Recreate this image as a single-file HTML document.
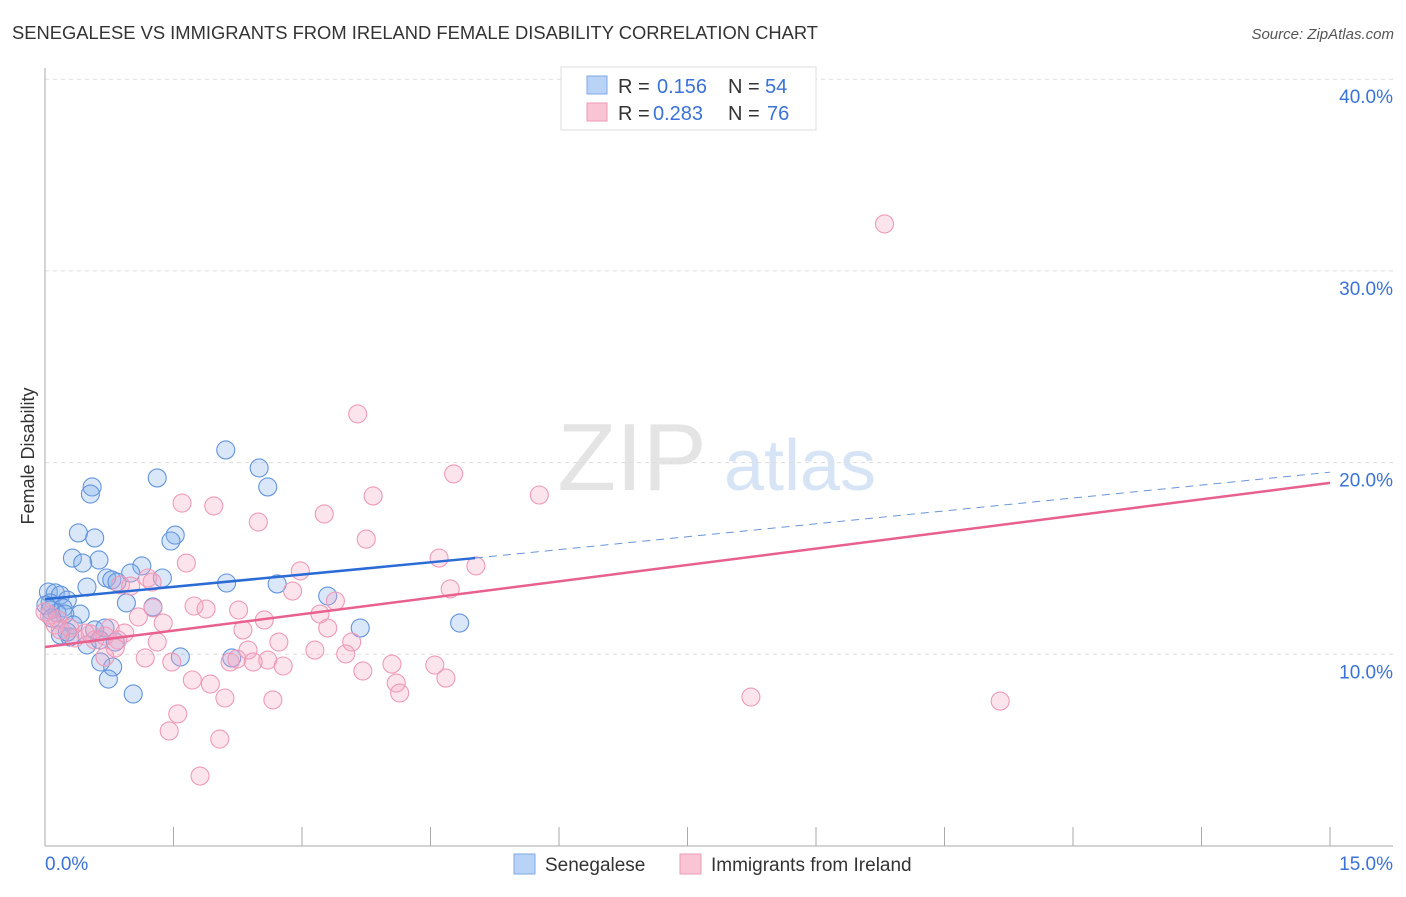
<!DOCTYPE html>
<html><head><meta charset="utf-8"><style>
body{margin:0;background:#fff;font-family:"Liberation Sans",sans-serif}
svg text{font-family:"Liberation Sans",sans-serif}
</style></head><body>
<svg id="chart" width="1406" height="892" viewBox="0 0 1406 892" xmlns="http://www.w3.org/2000/svg">
<text x="12" y="39" font-size="18" fill="#333" textLength="806" lengthAdjust="spacingAndGlyphs">SENEGALESE VS IMMIGRANTS FROM IRELAND FEMALE DISABILITY CORRELATION CHART</text>
<text x="1394" y="39" font-size="15" fill="#555" font-style="italic" text-anchor="end">Source: ZipAtlas.com</text>
<g>
<text x="632" y="490" font-size="96" fill="#e4e4e4" text-anchor="middle" font-family="Liberation Serif">ZIP</text>
<text x="800" y="490" font-size="72" fill="#d6e4f5" text-anchor="middle">atlas</text>
</g>
<g id="grid"></g>
<g id="axes"></g>
<g id="marks"></g>
<text transform="translate(34,456) rotate(-90)" font-size="18" fill="#333" text-anchor="middle">Female Disability</text>
<g>
<rect x="561" y="67" width="255" height="63" fill="#fff" stroke="#ddd"/>
<rect x="587" y="76" width="20" height="18" fill="#b8d3f5" stroke="#7fa9e6"/>
<rect x="587" y="103" width="20" height="18" fill="#f9c5d5" stroke="#ee9ab5"/>
<text x="618" y="93" font-size="20" fill="#333">R =</text>
<text x="657" y="93" font-size="20" fill="#3a72d8">0.156</text>
<text x="728" y="93" font-size="20" fill="#333">N =</text>
<text x="765" y="93" font-size="20" fill="#3a72d8">54</text>
<text x="618" y="120" font-size="20" fill="#333">R =</text>
<text x="653" y="120" font-size="20" fill="#3a72d8">0.283</text>
<text x="728" y="120" font-size="20" fill="#333">N =</text>
<text x="767" y="120" font-size="20" fill="#3a72d8">76</text>
</g>
<g>
<rect x="514" y="854" width="21" height="20" fill="#b8d3f5" stroke="#7fa9e6"/>
<text x="545" y="871" font-size="19" fill="#333">Senegalese</text>
<rect x="680" y="854" width="21" height="20" fill="#f9c5d5" stroke="#ee9ab5"/>
<text x="711" y="871" font-size="19" fill="#333">Immigrants from Ireland</text>
</g>
</svg>
<script>
const blueX=[2.11,2.50,2.60,1.31,0.55,0.53,0.39,0.58,1.52,1.47,0.32,0.63,0.44,1.13,1.00,0.72,0.78,0.84,1.37,2.12,2.71,0.49,0.04,0.12,0.18,0.26,0.06,0.95,1.26,0.21,0.41,0.14,0.23,3.30,3.68,4.84,0.33,0.18,0.29,0.58,0.70,0.49,0.64,0.82,1.58,2.18,0.65,0.79,0.74,1.03,0.06,0.01,0.08,0.26];
const blueY=[20.66,19.72,18.73,19.20,18.73,18.36,16.33,16.07,16.22,15.91,15.02,14.92,14.76,14.61,14.24,13.98,13.88,13.77,13.98,13.72,13.67,13.51,13.25,13.20,13.09,12.83,12.68,12.68,12.47,12.42,12.10,12.15,12.10,13.04,11.37,11.63,11.53,11.01,10.90,11.27,11.37,10.49,10.75,10.64,9.86,9.81,9.60,9.34,8.71,7.93,12.31,12.57,11.89,11.16];
const pinkX=[9.80,3.65,4.77,5.77,3.83,1.60,1.97,2.49,3.26,3.75,1.65,4.60,5.03,2.98,1.20,0.88,1.00,1.25,2.89,4.73,3.39,1.74,1.88,2.26,1.26,3.21,2.56,1.09,1.38,0.05,0.15,0.12,0.29,0.53,0.76,0.93,0.35,0.58,0.70,0.85,0.47,2.31,3.30,0.82,1.31,3.58,2.73,3.15,3.51,2.37,2.60,2.16,1.17,1.48,2.24,2.78,2.43,4.05,4.55,3.71,1.72,1.93,4.10,4.68,2.10,2.66,4.14,1.55,1.45,2.04,1.81,8.24,11.15,0.0,0.18,0.70];
const pinkY=[32.45,22.54,19.41,18.31,18.26,17.89,17.74,16.90,17.32,16.01,14.76,15.02,14.61,14.35,13.98,13.62,13.56,13.77,13.30,13.41,12.78,12.52,12.36,12.31,12.42,12.10,11.79,11.95,11.63,12.05,11.79,11.53,11.37,11.06,11.37,11.11,10.85,10.75,10.95,10.75,11.11,11.27,11.37,10.33,10.64,10.64,10.64,10.22,10.02,10.22,9.70,9.60,9.81,9.60,9.75,9.39,9.60,9.49,9.44,9.13,8.66,8.45,8.50,8.76,7.72,7.62,7.98,6.89,6.00,5.58,3.65,7.77,7.56,12.21,11.27,9.86];
const yTicks=[10,20,30,40];
const yTickLabels=["10.0%","20.0%","30.0%","40.0%"];
const xTicks=[0,1.5,3,4.5,6,7.5,9,10.5,12,13.5,15];
const blueTrend=[12.88,15.02,19.5];
const blueTrendX=[0,5.02,15];
const pinkTrend=[10.38,18.94];
const pinkTrendX=[0,15];

const X0=45,X1=1330,Y0=846,PXY=19.17;
const sx=v=>X0+(X1-X0)*v/15;
const sy=v=>Y0-v*PXY;
const NS="http://www.w3.org/2000/svg";
function mk(tag,attrs,parent){const e=document.createElementNS(NS,tag);for(const k in attrs)e.setAttribute(k,attrs[k]);parent.appendChild(e);return e;}
const grid=document.getElementById('grid'),axes=document.getElementById('axes'),marks=document.getElementById('marks');
yTicks.forEach((t,i)=>{
 const l=mk('line',{x1:X0,x2:1393,y1:sy(t),y2:sy(t),stroke:'#ddd','stroke-dasharray':'4,4'},grid);
 
 
 const tx=mk('text',{x:1393,y:sy(t)+24,'font-size':19,fill:'#3a72d8','text-anchor':'end'},axes);
 tx.textContent=yTickLabels[i];
 
 
});
const ya=mk('line',{x1:X0,x2:X0,y1:68,y2:Y0,stroke:'#aaa'},axes);


const xa=mk('line',{x1:X0,x2:1393,y1:Y0,y2:Y0,stroke:'#aaa'},axes);


xTicks.forEach(t=>{
 const l=mk('line',{x1:sx(t),x2:sx(t),y1:Y0,y2:Y0-19,stroke:'#aaa'},axes);
 
 
});
const xl0=mk('text',{x:45,y:870,'font-size':19,fill:'#3a72d8'},axes);xl0.textContent='0.0%';


const xl1=mk('text',{x:1393,y:870,'font-size':19,fill:'#3a72d8','text-anchor':'end'},axes);xl1.textContent='15.0%';



blueX.forEach((x,i)=>{
 const c=mk('circle',{cx:sx(x),cy:sy(blueY[i]),r:9,fill:'rgba(130,175,235,0.3)',stroke:'#6394dc','stroke-width':1.1},marks);
 
 
});
pinkX.forEach((x,i)=>{
 const c=mk('circle',{cx:sx(x),cy:sy(pinkY[i]),r:9,fill:'rgba(245,165,195,0.3)',stroke:'#ee9ab7','stroke-width':1.1},marks);
 
 
});
const bt=mk('line',{x1:sx(blueTrendX[0]),y1:sy(blueTrend[0]),x2:sx(blueTrendX[1]),y2:sy(blueTrend[1]),stroke:'#2a6bd6','stroke-width':2.5},marks);


const bd=mk('line',{x1:sx(blueTrendX[1]),y1:sy(blueTrend[1]),x2:sx(blueTrendX[2]),y2:sy(blueTrend[2]),stroke:'#6a95d8','stroke-width':1,'stroke-dasharray':'8,6'},marks);


const pt=mk('line',{x1:sx(pinkTrendX[0]),y1:sy(pinkTrend[0]),x2:sx(pinkTrendX[1]),y2:sy(pinkTrend[1]),stroke:'#e8608e','stroke-width':2.5},marks);


</script>
</body></html>
